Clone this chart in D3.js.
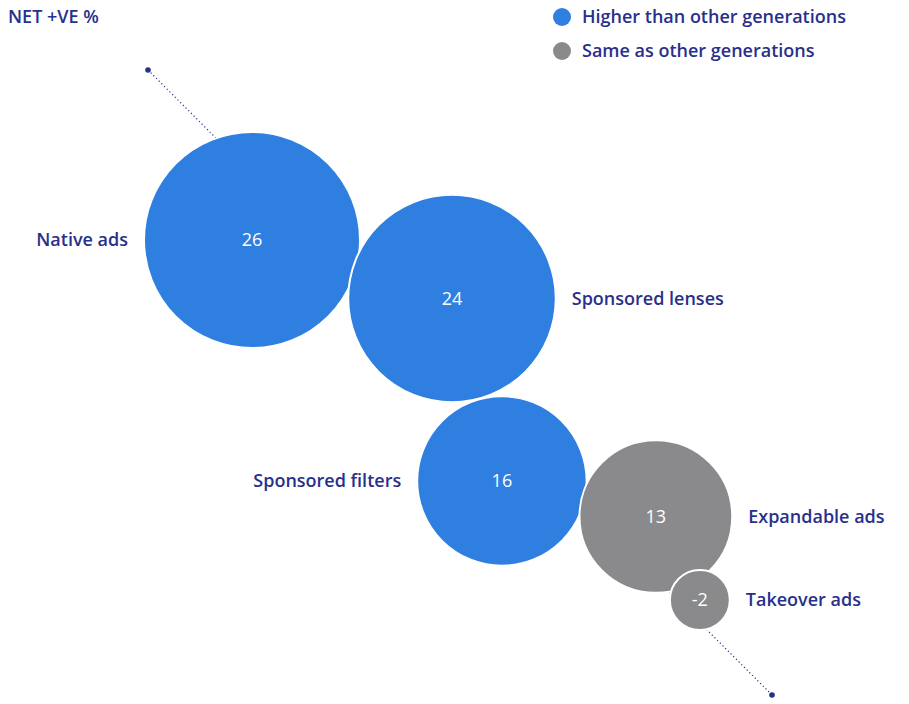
<!DOCTYPE html>
<html><head><meta charset="utf-8">
<script src="https://cdn.jsdelivr.net/npm/d3@7"></script>
<style>
html,body{margin:0;padding:0;background:#fff;}
svg text{font-family:"Open Sans",Lato,sans-serif;}
</style></head>
<body><svg id="chart" width="909" height="704"></svg>
<script>
// ---- data ----
const categories = ["Native ads","Sponsored lenses","Sponsored filters","Expandable ads","Takeover ads"];
const values = [26, 24, 16, 13, -2];
const groups = ["Higher than other generations","Higher than other generations","Higher than other generations","Same as other generations","Same as other generations"];
const legendLabels = ["Higher than other generations","Same as other generations"];
const title = "NET +VE %";

// ---- styles / layout ----
const textColor = "#28308c";
const color = d3.scaleOrdinal().domain(legendLabels).range(["#2e7fe0","#8a8a8c"]);
const r = d3.scaleSqrt().domain([0, 26]).range([0, 108]);

// chain layout: each bubble placed next to the previous along a zig-zag about the diagonal
const start = [252, 240];
const steps = [[16.3, -3.4], [74.7, 0.7], [13.0, -3.1], [62.2, -12]]; // [angle deg, gap px]
const labelSide = ["left","right","left","right","right"];

const data = categories.map((c, i) => ({name: c, value: values[i], group: groups[i], side: labelSide[i], r: r(Math.abs(values[i]))}));
data[0].x = start[0]; data[0].y = start[1];
for (let i = 1; i < data.length; i++) {
  const [a, g] = steps[i - 1];
  const d = data[i - 1].r + data[i].r + g;
  const rad = a * Math.PI / 180;
  data[i].x = data[i - 1].x + d * Math.cos(rad);
  data[i].y = data[i - 1].y + d * Math.sin(rad);
}

const svg = d3.select("#chart");

// diagonal axis
const axisX = d3.scaleLinear().domain([0, 1]).range([148, 772]);
const axisY = d3.scaleLinear().domain([0, 1]).range([70, 695]);
svg.append("line")
  .attr("x1", axisX(0)).attr("y1", axisY(0)).attr("x2", axisX(1)).attr("y2", axisY(1))
  .attr("stroke", textColor).attr("stroke-width", 1.2).attr("stroke-dasharray", "1.2,2.6");
svg.selectAll("circle.end").data([0, 1]).join("circle").attr("class", "end")
  .attr("cx", d => axisX(d)).attr("cy", d => axisY(d)).attr("r", 2.8).attr("fill", textColor);

// bubbles
const g = svg.selectAll("g.bubble").data(data).join("g").attr("class", "bubble");
g.append("circle")
  .attr("cx", d => d.x).attr("cy", d => d.y).attr("r", d => d.r)
  .attr("fill", d => color(d.group)).attr("stroke", "#fff").attr("stroke-width", 2);
g.append("text")
  .attr("x", d => d.x).attr("y", d => d.y).attr("dy", "0.35em")
  .attr("text-anchor", "middle").attr("fill", "#fff").attr("font-size", 18)
  .text(d => d.value);
g.append("text")
  .attr("x", d => d.side === "left" ? d.x - d.r - 16 : d.x + d.r + 16)
  .attr("y", d => d.y).attr("dy", "0.35em")
  .attr("text-anchor", d => d.side === "left" ? "end" : "start")
  .attr("fill", textColor).attr("font-size", 18).attr("font-weight", 600)
  .text(d => d.name);

// title
svg.append("text").attr("x", 8).attr("y", 17).attr("dy", "0.35em")
  .attr("fill", textColor).attr("font-size", 18).attr("font-weight", 600).text(title);

// legend
const lg = svg.selectAll("g.legend").data(legendLabels).join("g").attr("class", "legend")
  .attr("transform", (d, i) => `translate(562,${17 + i * 34})`);
lg.append("circle").attr("r", 9).attr("fill", d => color(d));
lg.append("text").attr("x", 20).attr("dy", "0.35em").attr("fill", textColor)
  .attr("font-size", 18).attr("font-weight", 600).text(d => d);
</script></body></html>
